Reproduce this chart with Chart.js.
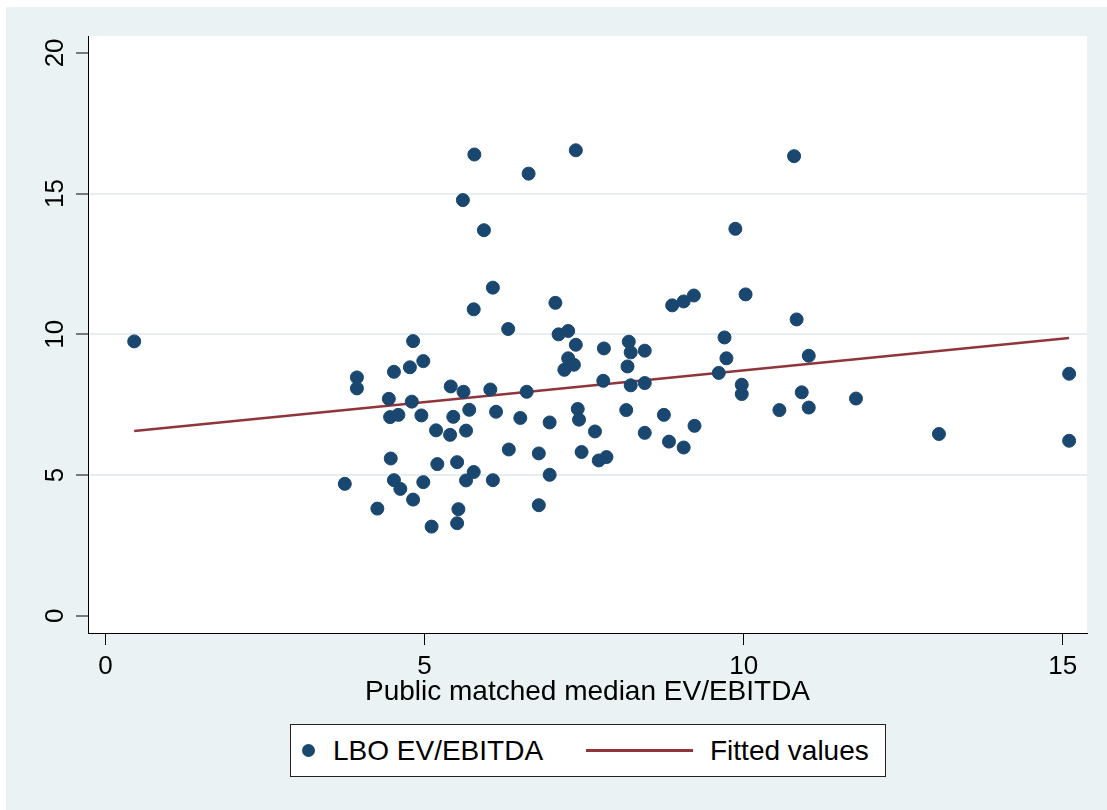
<!DOCTYPE html>
<html>
<head>
    <title>LBO vs public EV/EBITDA</title>
    <style>
        body {
            margin: 0;
            background: #ffffff;
            font-family: "Liberation Sans", Arial, sans-serif;
        }
        #page {
            position: relative;
            width: 1107px;
            height: 810px;
            overflow: hidden;
        }
        #bg {
            position: absolute;
            left: 6px;
            top: 7px;
            right: 0;
            bottom: 0;
            background: #eaf2f3;
        }
        #chart {
            position: absolute;
            left: 0;
            top: 0;
        }
        .legend {
            position: absolute;
            left: 290px;
            top: 724px;
            width: 594px;
            height: 51px;
            background: #fff;
            border: 1px solid #222;
        }
        .legend .dot {
            position: absolute;
            left: 11px;
            top: 19px;
            width: 13px;
            height: 13px;
            border-radius: 50%;
            background: #1a476f;
        }
        .legend .ln {
            position: absolute;
            left: 295px;
            top: 24px;
            width: 107px;
            height: 3px;
            background: #90353b;
        }
        .legend .txt {
            position: absolute;
            top: 12px;
            font-size: 28px;
            line-height: 28px;
            color: #000;
            white-space: nowrap;
        }
    </style>
    <script src="https://cdn.jsdelivr.net/npm/chart.js"></script>
</head>
<body>
    <div id="page">
        <div id="bg"></div>
        <canvas id="chart" width="1107" height="810"></canvas>
        <div class="legend">
            <span class="dot"></span>
            <span class="txt" id="lab1" style="left:42px"></span>
            <span class="ln"></span>
            <span class="txt" id="lab2" style="left:419px"></span>
        </div>
    </div>

    <script>
        // values
        const seriesNames = ['LBO EV/EBITDA', 'Fitted values'];
        const xTitle = 'Public matched median EV/EBITDA';
        const xTicks = [0, 5, 10, 15];
        const yTicks = [0, 5, 10, 15, 20];

        const lboX = [0.45, 3.75, 3.94, 3.94, 4.26, 4.44, 4.47, 4.46, 4.52, 4.52,
                      4.59, 4.62, 4.77, 4.80, 4.82, 4.82, 4.98, 4.95, 4.98, 5.11,
                      5.18, 5.20, 5.40, 5.41, 5.45, 5.51, 5.53, 5.51, 5.60, 5.61,
                      5.65, 5.65, 5.70, 5.78, 5.77, 5.77, 5.93, 6.03, 6.07, 6.12,
                      6.07, 6.31, 6.32, 6.50, 6.60, 6.63, 6.79, 6.79, 6.96, 6.96,
                      7.05, 7.10, 7.25, 7.25, 7.34, 7.19, 7.37, 7.37, 7.40, 7.42,
                      7.46, 7.67, 7.73, 7.85, 7.80, 7.81, 8.20, 8.23, 8.18, 8.23,
                      8.16, 8.45, 8.45, 8.45, 8.75, 8.83, 8.88, 9.06, 9.22, 9.06,
                      9.23, 9.61, 9.70, 9.73, 9.87, 9.97, 9.97, 10.03, 10.56, 10.79,
                      10.83, 10.91, 11.02, 11.02, 11.76, 13.06, 15.10, 15.10];
        const lboY = [9.75, 4.69, 8.47, 8.08, 3.81, 7.71, 5.59, 7.06, 4.82, 8.67,
                      7.14, 4.51, 8.83, 7.61, 9.76, 4.13, 9.05, 7.12, 4.75, 3.17,
                      6.59, 5.39, 6.43, 8.15, 7.07, 5.46, 3.79, 3.29, 14.77, 7.96,
                      6.58, 4.81, 7.32, 16.39, 10.89, 5.11, 13.70, 8.04, 11.66, 7.25,
                      4.82, 10.19, 5.91, 7.03, 7.96, 15.71, 5.77, 3.93, 6.87, 5.01,
                      11.12, 10.00, 10.12, 9.15, 8.92, 8.74, 16.54, 9.63, 7.35, 6.97,
                      5.82, 6.55, 5.52, 5.64, 8.35, 9.50, 9.74, 9.36, 8.86, 8.19,
                      7.31, 9.42, 8.27, 6.50, 7.14, 6.19, 11.03, 11.17, 11.38, 5.98,
                      6.75, 8.63, 9.89, 9.15, 13.75, 8.21, 7.88, 11.42, 7.31, 16.33,
                      10.53, 7.94, 9.24, 7.40, 7.72, 6.46, 8.60, 6.22];

        const fitX = [0.45, 15.10];
        const fitY = [6.57, 9.87];

        const navy = '#1a476f';
        const maroon = '#90353b';
        const gridCol = '#e6eef0';

        document.getElementById('lab1').textContent = seriesNames[0];
        document.getElementById('lab2').textContent = seriesNames[1];

        Chart.defaults.font.family = '"Liberation Sans", Arial, sans-serif';
        Chart.defaults.color = '#000';

        // white plot region
        const plotBg = {
            id: 'plotBg',
            beforeDraw(chart) {
                const a = chart.chartArea;
                chart.ctx.save();
                chart.ctx.fillStyle = '#fff';
                chart.ctx.fillRect(a.left, a.top, a.right - a.left, a.bottom - a.top);
                chart.ctx.restore();
            }
        };

        const ctx = document.getElementById('chart').getContext('2d');
        new Chart(ctx, {
            type: 'scatter',
            data: {
                datasets: [{
                    label: seriesNames[0],
                    data: lboX.map((x, i) => ({ x: x, y: lboY[i] })),
                    backgroundColor: navy,
                    borderColor: navy,
                    borderWidth: 1,
                    pointRadius: 6.5,
                    pointHoverRadius: 6.5
                }, {
                    type: 'line',
                    label: seriesNames[1],
                    data: fitX.map((x, i) => ({ x: x, y: fitY[i] })),
                    borderColor: maroon,
                    borderWidth: 2.5,
                    pointRadius: 0,
                    fill: false
                }]
            },
            options: {
                responsive: false,
                animation: false,
                layout: { padding: { top: 36, right: 20, left: 0, bottom: 0 } },
                plugins: {
                    legend: { display: false },
                    tooltip: { enabled: false }
                },
                scales: {
                    x: {
                        type: 'linear',
                        min: -0.274,
                        max: 15.38,
                        afterBuildTicks: s => { s.ticks = xTicks.map(v => ({ value: v })); },
                        afterFit: s => { s.height = 177; },
                        grid: {
                            drawOnChartArea: false,
                            tickLength: 12,
                            tickColor: '#000',
                            tickWidth: 1
                        },
                        border: { color: '#000', width: 1 },
                        ticks: {
                            autoSkip: false,
                            padding: 6,
                            font: { size: 26 },
                            maxRotation: 0
                        },
                        title: {
                            display: true,
                            text: xTitle,
                            font: { size: 28 },
                            padding: { top: 0, bottom: 101 }
                        }
                    },
                    y: {
                        type: 'linear',
                        min: -0.61,
                        max: 20.6,
                        afterBuildTicks: s => { s.ticks = yTicks.map(v => ({ value: v })); },
                        afterFit: s => { s.width = 88; },
                        grid: {
                            color: c => (c.tick && c.tick.value > 0 && c.tick.value < 20) ? gridCol : 'rgba(0,0,0,0)',
                            lineWidth: 2,
                            tickLength: 12,
                            tickColor: '#000',
                            tickWidth: 1
                        },
                        border: { color: '#000', width: 1 },
                        ticks: {
                            autoSkip: false,
                            minRotation: 90,
                            maxRotation: 90,
                            crossAlign: 'center',
                            padding: 6,
                            font: { size: 26 }
                        }
                    }
                }
            },
            plugins: [plotBg]
        });
    </script>
</body>
</html>
